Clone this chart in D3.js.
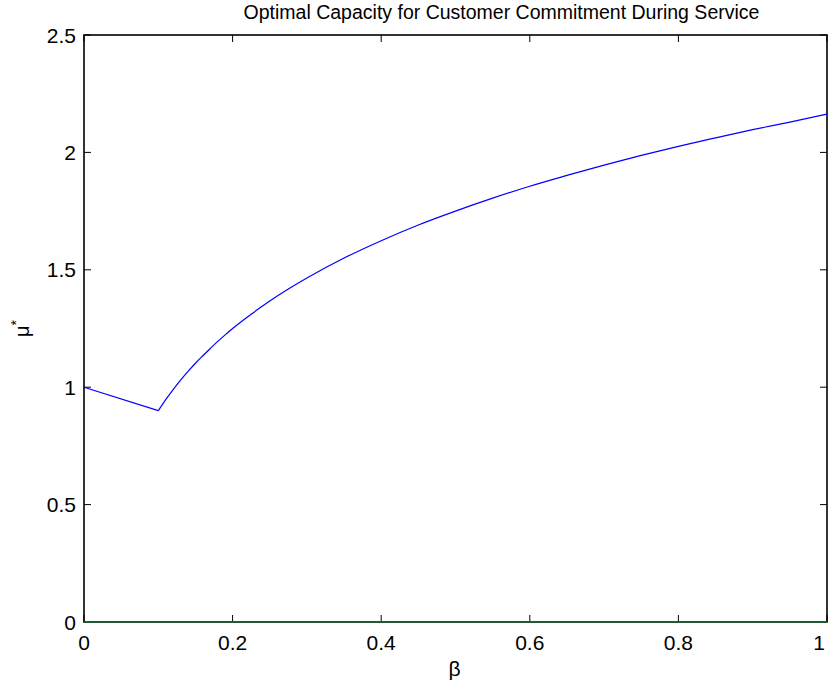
<!DOCTYPE html>
<html><head><meta charset="utf-8">
<script src="https://cdn.jsdelivr.net/npm/d3@7"></script>
<style>body{margin:0;background:#fff}svg{display:block}text{font-family:"Liberation Sans",Arial,sans-serif}</style>
</head><body>
<svg id="c" width="830" height="685"></svg>
<script>
const betaValues = [0, 0.1, 0.11, 0.12, 0.13, 0.14, 0.15, 0.16, 0.17, 0.18, 0.19, 0.2, 0.225, 0.25, 0.275, 0.3, 0.35, 0.4, 0.45, 0.5, 0.55, 0.6, 0.65, 0.7, 0.75, 0.8, 0.85, 0.9, 0.95, 1.0];
const muValues   = [1.0, 0.9, 0.947, 0.990, 1.030, 1.067, 1.102, 1.134, 1.165, 1.195, 1.223, 1.250, 1.311, 1.367, 1.418, 1.465, 1.550, 1.624, 1.691, 1.750, 1.805, 1.856, 1.902, 1.946, 1.987, 2.026, 2.062, 2.097, 2.129, 2.163];
const xTicks = [0, 0.2, 0.4, 0.6, 0.8, 1];
const xTickLabels = ["0", "0.2", "0.4", "0.6", "0.8", "1"];
const yTicks = [0, 0.5, 1, 1.5, 2, 2.5];
const yTickLabels = ["0", "0.5", "1", "1.5", "2", "2.5"];
const titleText = "Optimal Capacity for Customer Commitment During Service";

const L = 84, R = 827, T = 35, B = 622;
const svg = d3.select("#c");
const x = d3.scaleLinear().domain([0, 1]).range([L, R]);
const y = d3.scaleLinear().domain([0, 2.5]).range([B, T]);
const tl = 7;

// frame
svg.append("rect").attr("x", L).attr("y", T).attr("width", R - L).attr("height", B - T)
  .attr("fill", "none").attr("stroke", "#000").attr("stroke-width", 1.6);

// ticks inward on all sides
const g = svg.append("g").attr("stroke", "#000").attr("stroke-width", 1);
xTicks.forEach(v => {
  g.append("line").attr("x1", x(v)).attr("x2", x(v)).attr("y1", B).attr("y2", B - tl);
  g.append("line").attr("x1", x(v)).attr("x2", x(v)).attr("y1", T).attr("y2", T + tl);
});
yTicks.forEach(v => {
  g.append("line").attr("y1", y(v)).attr("y2", y(v)).attr("x1", L).attr("x2", L + tl);
  g.append("line").attr("y1", y(v)).attr("y2", y(v)).attr("x1", R).attr("x2", R - tl);
});

// tick labels
xTicks.forEach((v, i) => {
  svg.append("text").attr("x", Math.min(x(v), 819)).attr("y", 650).attr("text-anchor", "middle")
    .attr("font-size", 21).text(xTickLabels[i]);
});
yTicks.forEach((v, i) => {
  svg.append("text").attr("x", L - 8).attr("y", y(v) + 7.5).attr("text-anchor", "end")
    .attr("font-size", 21).text(yTickLabels[i]);
});

// zero line (green)
svg.append("line").attr("x1", x(0)).attr("x2", x(1)).attr("y1", y(0)).attr("y2", y(0))
  .attr("stroke", "#1e5b2e").attr("stroke-width", 2);

// curve: straight first segment, smooth after the kink
const pts = betaValues.map((b, i) => [b, muValues[i]]);
svg.append("path").datum(pts.slice(0, 2))
  .attr("fill", "none").attr("stroke", "#0000ff").attr("stroke-width", 1.2)
  .attr("d", d3.line().x(d => x(d[0])).y(d => y(d[1])));
svg.append("path").datum(pts.slice(1))
  .attr("fill", "none").attr("stroke", "#0000ff").attr("stroke-width", 1.2)
  .attr("d", d3.line().x(d => x(d[0])).y(d => y(d[1])).curve(d3.curveMonotoneX));

// title
svg.append("text").attr("x", (L + R) / 2 + 46).attr("y", 19).attr("text-anchor", "middle")
  .attr("font-size", 19.5).text(titleText);

// x label
svg.append("text").attr("x", (L + R) / 2 - 1).attr("y", 676).attr("text-anchor", "middle")
  .attr("font-size", 21).text("β");

// y label
const yl = svg.append("text").attr("transform", `translate(29,${(T + B) / 2}) rotate(-90)`)
  .attr("text-anchor", "middle").attr("font-size", 20);
yl.append("tspan").text("μ");
yl.append("tspan").attr("dy", -8).attr("font-size", 14).text("*");
</script>
</body></html>
